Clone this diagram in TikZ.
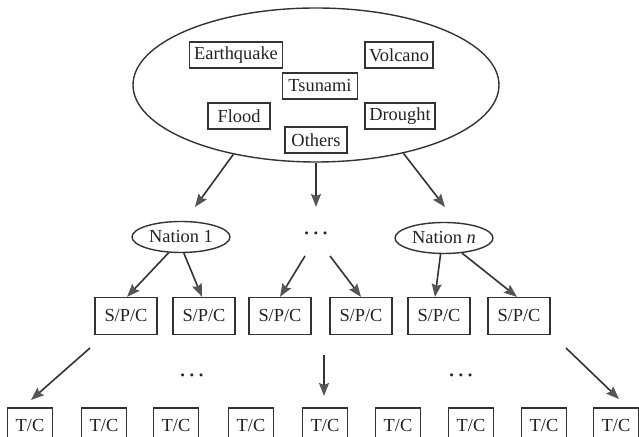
\documentclass[tikz,border=0pt]{standalone}
\usepackage{fontspec}
\setmainfont{Liberation Serif}
\usetikzlibrary{shapes.geometric,arrows.meta}
\definecolor{linec}{HTML}{333333}
\definecolor{tipc}{HTML}{555555}
\definecolor{textc}{HTML}{222222}
\newcommand{\mydots}{\textbf{·\kern1.6pt·\kern1.6pt·}}
\begin{document}
\begin{tikzpicture}[x=0.5pt,y=-0.5pt,
  font=\fontsize{9.2}{11}\selectfont, text=textc,
  hazard/.style={draw=linec, line width=0.65pt, minimum height=13pt, inner sep=0pt},
  oval/.style={ellipse, draw=linec, line width=0.7pt, inner sep=0pt},
  spc/.style={draw=linec, line width=0.65pt, minimum width=31pt, minimum height=18.5pt, inner sep=0pt},
  tc/.style={draw=linec, line width=0.65pt, minimum width=22.5pt, minimum height=18pt, inner sep=0pt},
  arr/.style={draw=linec, line width=0.8pt, -{Stealth[length=6.5pt,width=5pt,inset=1pt,fill=tipc,color=tipc]}}]
\useasboundingbox (0,0) rectangle (639,437);
\clip (0,0) rectangle (639,437);
% top ellipse
\node[oval, minimum width=183pt, minimum height=77pt] (top) at (316,85) {};
\node[hazard, minimum width=46.5pt] (eq) at (236,55) {Earthquake};
\node[hazard, minimum width=34pt] (vol) at (399,55) {Volcano};
\node[hazard, minimum width=37.5pt] (tsu) at (320,86) {Tsunami};
\node[hazard, minimum width=31pt] (flood) at (239,116) {Flood};
\node[hazard, minimum width=35pt] (drought) at (400,116) {Drought};
\node[hazard, minimum width=31pt] (others) at (316,140) {Others};
% nations
\node[oval, minimum width=49pt, minimum height=15.5pt] (n1) at (181,237) {Nation 1};
\node (mdots) at (316,236) {\mydots};
\node[oval, minimum width=49pt, minimum height=15.5pt] (nn) at (444,238) {Nation \textit{n}};
\coordinate (eend1) at (195,207);
\coordinate (eend2) at (316,207);
\coordinate (eend3) at (445,207);
\draw[arr] (top.220) -- (eend1);
\draw[arr] (top.270) -- (eend2);
\draw[arr] (top.322) -- (eend3);
% S/P/C
\node[spc] (s1) at (126,316) {S/P/C};
\node[spc] (s2) at (204,316) {S/P/C};
\node[spc] (s3) at (280,316) {S/P/C};
\node[spc] (s4) at (361,316) {S/P/C};
\node[spc] (s5) at (439,316) {S/P/C};
\node[spc] (s6) at (519,316) {S/P/C};
\coordinate (m1) at (305,256);
\coordinate (m2) at (330,256);
\draw[arr] (n1.232) -- ([xshift=0.5pt]s1.north);
\draw[arr] (n1.280) -- ([xshift=-1pt]s2.north);
\draw[arr] (m1) -- (s3.north);
\draw[arr] (m2) -- (s4.north);
\draw[arr] (nn.258) -- ([xshift=-2pt]s5.north);
\draw[arr] (nn.320) -- ([xshift=-1pt]s6.north);
% T/C
\node[tc] (t1) at (30,426) {T/C};
\node[tc] (t2) at (104,426) {T/C};
\node[tc] (t3) at (176,426) {T/C};
\node[tc] (t4) at (251,426) {T/C};
\node[tc] (t5) at (325,426) {T/C};
\node[tc] (t6) at (398,426) {T/C};
\node[tc] (t7) at (471,426) {T/C};
\node[tc] (t8) at (544,426) {T/C};
\node[tc] (t9) at (616,426) {T/C};
\node (bdots1) at (192,378) {\mydots};
\node (bdots2) at (461,378) {\mydots};
\coordinate (b1) at (90,348);
\coordinate (b2) at (324,355);
\coordinate (b3) at (566,348);
\coordinate (bt1) at (31,400);
\coordinate (bt2) at (324,396);
\coordinate (bt3) at (619,399);
\draw[arr] (b1) -- (bt1);
\draw[arr] (b2) -- (bt2);
\draw[arr] (b3) -- (bt3);
\end{tikzpicture}
\end{document}
